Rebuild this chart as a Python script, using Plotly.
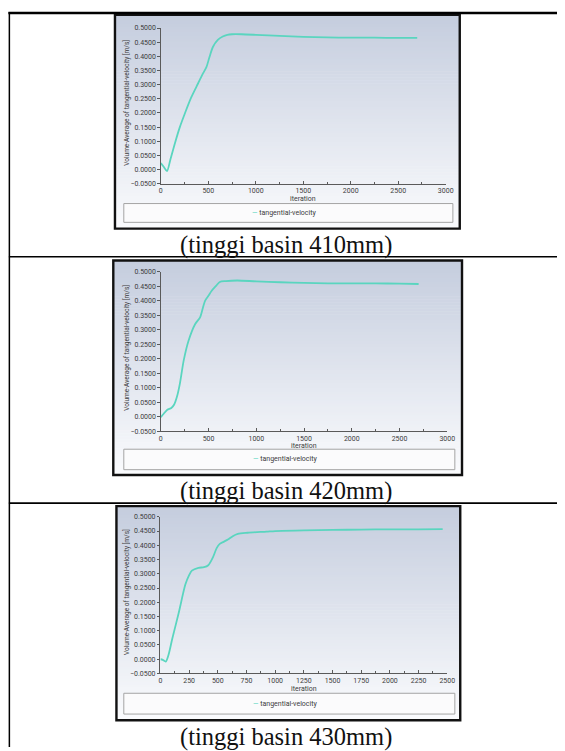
import plotly.graph_objects as go

# ---------------- data ----------------
iter_410 = [0, 30, 65, 100, 150, 200, 255, 320, 393, 440, 480, 510, 548, 600, 652, 700, 750,
            850, 1000, 1250, 1500, 1750, 2000, 2250, 2500, 2700]
vel_410 = [0.023, 0.010, -0.005, 0.035, 0.095, 0.150, 0.200, 0.255, 0.305, 0.337, 0.362, 0.395,
           0.433, 0.458, 0.470, 0.476, 0.478, 0.478, 0.476, 0.472, 0.469, 0.467, 0.466, 0.466,
           0.465, 0.465]

iter_420 = [0, 30, 68, 110, 140, 170, 200, 240, 291, 360, 411, 440, 463, 500, 531, 580, 617,
            680, 800, 1000, 1250, 1500, 1750, 2000, 2250, 2500, 2700]
vel_420 = [-0.002, 0.010, 0.024, 0.030, 0.042, 0.070, 0.115, 0.195, 0.263, 0.320, 0.343, 0.375,
           0.400, 0.418, 0.434, 0.452, 0.465, 0.468, 0.470, 0.467, 0.464, 0.462, 0.460, 0.460,
           0.460, 0.459, 0.458]

iter_430 = [0, 20, 46, 70, 103, 160, 217, 250, 274, 331, 380, 417, 460, 490, 517, 550, 588,
            630, 674, 760, 925, 1000, 1250, 1500, 1750, 2000, 2250, 2460]
vel_430 = [0.000, -0.002, -0.008, 0.015, 0.072, 0.164, 0.262, 0.295, 0.311, 0.321, 0.323, 0.330,
           0.360, 0.390, 0.405, 0.412, 0.420, 0.432, 0.440, 0.444, 0.448, 0.450, 0.452, 0.454,
           0.455, 0.456, 0.456, 0.457]

captions = ["(tinggi basin 410mm)", "(tinggi basin 420mm)", "(tinggi basin 430mm)"]
x_title = "iteration"
y_title = "Volume-Average of tangential-velocity [m/s]"
series_name = "tangential-velocity"
x_max = [3000, 3000, 2500]
x_dtick = [500, 500, 250]
x_minor = [250, 250, 125]
y_range = [-0.05, 0.5]

# ---------------- layout helpers ----------------
W, H = 565, 751


def fx(x):
    return x / W


def fy(y):
    return 1 - y / H


LINE_COLOR = "#5ad5bf"
TICK_COLOR = "#3c3c3c"
AXIS_COLOR = "#5a5a5a"

panels = [
    dict(frame=(115, 11, 466, 227), plot=(161.7, 24.3, 451.7, 181.7),
         legend=(124, 201.7, 459, 220.7), ytitle_x=126.5),
    dict(frame=(113.3, 259.3, 468.3, 476), plot=(161.7, 270.7, 453.3, 431.7),
         legend=(124, 450, 461, 470.7), ytitle_x=127),
    dict(frame=(116.5, 507.5, 466.5, 724), plot=(161.3, 518.3, 453.3, 676.7),
         legend=(124, 696.7, 461, 717.7), ytitle_x=126.5),
]
series = [(iter_410, vel_410), (iter_420, vel_420), (iter_430, vel_430)]

fig = go.Figure()
shapes = []
annotations = []

TOP_C = (197, 205, 222)
BOT_C = (250, 251, 253)

for i, p in enumerate(panels):
    n = "" if i == 0 else str(i + 1)
    xs, ys = series[i]
    fig.add_trace(go.Scatter(
        x=xs, y=ys, mode="lines", name=series_name, showlegend=False,
        line=dict(color=LINE_COLOR, width=1.8, shape="spline", smoothing=0.8),
        xaxis="x" + n, yaxis="y" + n, hoverinfo="skip"))

    x0, y0, x1, y1 = p["plot"]
    xa = dict(domain=[fx(x0), fx(x1)], range=[0, x_max[i]], dtick=x_dtick[i], tick0=0,
              anchor="y" + n, showgrid=False, zeroline=False, showline=True,
              linecolor=AXIS_COLOR, linewidth=1, ticks="inside", ticklen=3,
              tickcolor=AXIS_COLOR, tickwidth=1,
              tickfont=dict(family="Roboto", size=7, color=TICK_COLOR),
              minor=dict(dtick=x_minor[i], ticks="inside", ticklen=2, tickcolor=AXIS_COLOR),
              fixedrange=True)
    ya = dict(domain=[fy(y1), fy(y0)], range=y_range, dtick=0.05, tick0=0,
              tickformat=".4f", anchor="x" + n, showgrid=False, zeroline=False,
              showline=True, linecolor=AXIS_COLOR, linewidth=1, ticks="outside",
              ticklen=2.5, tickcolor=AXIS_COLOR, tickwidth=1,
              tickfont=dict(family="Roboto", size=7, color=TICK_COLOR),
              fixedrange=True)
    fig.update_layout(**{"xaxis" + n: xa, "yaxis" + n: ya})

    # gradient background inside the frame
    fx0, fy0, fx1, fy1 = p["frame"]
    steps = 72
    h = (fy1 - fy0) / steps
    for k in range(steps):
        t = k / (steps - 1)
        c = tuple(int(round(TOP_C[j] + (BOT_C[j] - TOP_C[j]) * t)) for j in range(3))
        shapes.append(dict(type="rect", xref="paper", yref="paper", layer="below",
                           x0=fx(fx0), x1=fx(fx1), y0=fy(fy0 + k * h), y1=fy(fy0 + (k + 1) * h + 0.6),
                           line=dict(width=0), fillcolor="rgb(%d,%d,%d)" % c))
    # frame border
    shapes.append(dict(type="rect", xref="paper", yref="paper", layer="above",
                       x0=fx(fx0), x1=fx(fx1), y0=fy(fy1), y1=fy(fy0),
                       line=dict(color="#111111", width=2.4)))
    # legend box
    lx0, ly0, lx1, ly1 = p["legend"]
    shapes.append(dict(type="rect", xref="paper", yref="paper", layer="below",
                       x0=fx(lx0), x1=fx(lx1), y0=fy(ly1), y1=fy(ly0),
                       line=dict(color="#a4a4a4", width=1), fillcolor="#fbfbfc"))
    annotations.append(dict(
        xref="paper", yref="paper", x=fx((lx0 + lx1) / 2 - 4), y=fy((ly0 + ly1) / 2),
        text="<span style='color:%s'>—</span> %s" % (LINE_COLOR, series_name),
        showarrow=False, xanchor="center", yanchor="middle",
        font=dict(family="Roboto", size=7, color=TICK_COLOR)))
    # axis titles
    annotations.append(dict(
        xref="paper", yref="paper", x=fx((x0 + x1) / 2), y=fy(y1 + 15.5),
        text=x_title, showarrow=False, xanchor="center", yanchor="middle",
        font=dict(family="Roboto", size=7, color=TICK_COLOR)))
    annotations.append(dict(
        xref="paper", yref="paper", x=fx(p["ytitle_x"]), y=fy((y0 + y1) / 2 - 3.5),
        text=y_title, showarrow=False, textangle=-90, xanchor="center", yanchor="middle",
        font=dict(family="Roboto", size=6.5, color=TICK_COLOR)))
    # caption
    annotations.append(dict(
        xref="paper", yref="paper", x=fx(289.5), y=fy(fy1 + 16.5),
        text=captions[i], showarrow=False, xanchor="center", yanchor="middle",
        font=dict(family="Liberation Serif", size=24.5, color="#111111")))

# table lines
shapes.append(dict(type="line", xref="paper", yref="paper", x0=fx(6.5), x1=1.0,
                   y0=fy(9), y1=fy(9), line=dict(color="#000000", width=2.5)))
shapes.append(dict(type="line", xref="paper", yref="paper", x0=fx(7.5), x1=fx(7.5),
                   y0=fy(8), y1=0, line=dict(color="#000000", width=1.5)))
for yy in (255.5, 504.5):
    shapes.append(dict(type="line", xref="paper", yref="paper", x0=fx(7), x1=1.0,
                       y0=fy(yy), y1=fy(yy), line=dict(color="#000000", width=1.6)))

fig.update_layout(
    width=W, height=H, margin=dict(l=0, r=0, t=0, b=0, pad=0),
    paper_bgcolor="white", plot_bgcolor="rgba(0,0,0,0)",
    shapes=shapes, annotations=annotations, showlegend=False,
    font=dict(family="Roboto"))

fig.write_html(
    "out.html", config=dict(displayModeBar=False),
    post_script="document.body.style.margin='0';document.body.style.overflow='hidden';")
